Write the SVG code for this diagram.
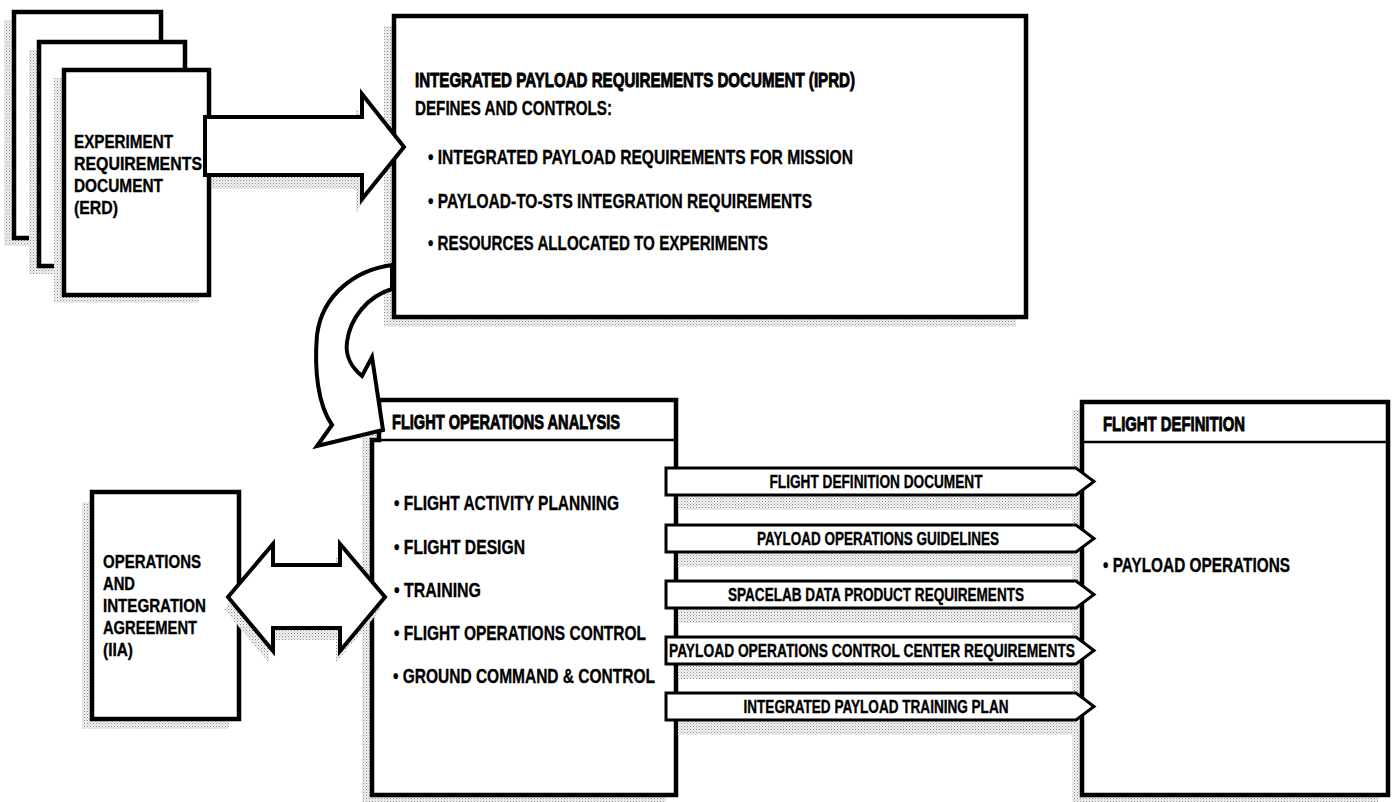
<svg xmlns="http://www.w3.org/2000/svg" width="1394" height="802" viewBox="0 0 1394 802">
<defs>
<pattern id="dots" width="3" height="3" patternUnits="userSpaceOnUse">
<rect width="3" height="3" fill="#f4f4f4"/>
<rect x="0" y="0" width="1" height="1" fill="#8a8a8a"/>
<rect x="1.5" y="1.5" width="1" height="1" fill="#a8a8a8"/>
</pattern>
<style>
.sh{fill:url(#dots);stroke:none}
.box{fill:#fff;stroke:#000;stroke-width:4.5}
.arr{fill:#fff;stroke:#000;stroke-width:4;stroke-linejoin:miter}
.ban{fill:#fff;stroke:#000;stroke-width:3}
.div{stroke:#000;stroke-width:2.5;fill:none}
.t{font-family:"Liberation Sans",Arial,sans-serif;font-weight:bold;font-size:21px;fill:#000;stroke:#000;stroke-width:0.35}
.s{font-size:19px}
.h{stroke-width:0.9}
.l{font-size:18px}
</style>
</defs>
<rect width="1394" height="802" fill="#fff"/>

<g id="erd">
<rect class="sh" x="4" y="20" width="147" height="226"/>
<rect class="box" x="14" y="12" width="147" height="226"/>
<rect class="sh" x="29" y="50" width="146" height="224"/>
<rect class="box" x="39" y="42" width="146" height="224"/>
<polygon class="sh" points="199,131 356,131 356,108 391,160 356,213 356,189 199,189"/>
<rect class="sh" x="54" y="78" width="145" height="225"/>
<rect class="box" x="64" y="70" width="145" height="225"/>
<text class="t s" x="74" y="148" textLength="99" lengthAdjust="spacingAndGlyphs">EXPERIMENT</text>
<text class="t s" x="74" y="170" textLength="128" lengthAdjust="spacingAndGlyphs">REQUIREMENTS</text>
<text class="t s" x="74" y="192" textLength="89" lengthAdjust="spacingAndGlyphs">DOCUMENT</text>
<text class="t s" x="74" y="214" textLength="44" lengthAdjust="spacingAndGlyphs">(ERD)</text>
</g>

<g id="iprd">
<rect class="sh" x="384" y="26" width="632" height="301"/>
<rect class="box" x="394" y="16" width="632" height="301"/>
<text class="t h" x="415" y="87" textLength="440" lengthAdjust="spacingAndGlyphs">INTEGRATED PAYLOAD REQUIREMENTS DOCUMENT (IPRD)</text>
<text class="t" x="415" y="115" textLength="197" lengthAdjust="spacingAndGlyphs">DEFINES AND CONTROLS:</text>
<text class="t" x="428" y="164" textLength="425" lengthAdjust="spacingAndGlyphs">• INTEGRATED PAYLOAD REQUIREMENTS FOR MISSION</text>
<text class="t" x="428" y="208" textLength="384" lengthAdjust="spacingAndGlyphs">• PAYLOAD-TO-STS INTEGRATION REQUIREMENTS</text>
<text class="t" x="428" y="250" textLength="340" lengthAdjust="spacingAndGlyphs">• RESOURCES ALLOCATED TO EXPERIMENTS</text>
</g>

<g id="oia">
<rect class="sh" x="82" y="502" width="147" height="227"/>
<rect class="box" x="92" y="492" width="147" height="227"/>
<text class="t s" x="103" y="568" textLength="98" lengthAdjust="spacingAndGlyphs">OPERATIONS</text>
<text class="t s" x="103" y="590" textLength="32" lengthAdjust="spacingAndGlyphs">AND</text>
<text class="t s" x="103" y="612" textLength="103" lengthAdjust="spacingAndGlyphs">INTEGRATION</text>
<text class="t s" x="103" y="634" textLength="94" lengthAdjust="spacingAndGlyphs">AGREEMENT</text>
<text class="t s" x="103" y="656" textLength="30" lengthAdjust="spacingAndGlyphs">(IIA)</text>
</g>

<g id="foa">
<rect class="sh" x="362" y="408" width="304" height="395"/>
<path class="box" d="M379,400 H676 V795 H372 V440 H379 Z"/>
<line class="div" x1="379" y1="440" x2="676" y2="440"/>
<text class="t h" x="392" y="429" textLength="228" lengthAdjust="spacingAndGlyphs">FLIGHT OPERATIONS ANALYSIS</text>
<text class="t" x="394" y="510" textLength="225" lengthAdjust="spacingAndGlyphs">• FLIGHT ACTIVITY PLANNING</text>
<text class="t" x="394" y="554" textLength="131" lengthAdjust="spacingAndGlyphs">• FLIGHT DESIGN</text>
<text class="t" x="394" y="597" textLength="87" lengthAdjust="spacingAndGlyphs">• TRAINING</text>
<text class="t" x="394" y="640" textLength="252" lengthAdjust="spacingAndGlyphs">• FLIGHT OPERATIONS CONTROL</text>
<text class="t" x="393" y="683" textLength="262" lengthAdjust="spacingAndGlyphs">• GROUND COMMAND &amp; CONTROL</text>
</g>

<g id="fd">
<rect class="sh" x="1072" y="410" width="306" height="393"/>
<rect class="box" x="1082" y="402" width="306" height="393"/>
<line class="div" x1="1082" y1="442" x2="1388" y2="442"/>
<text class="t h" x="1103" y="431" textLength="142" lengthAdjust="spacingAndGlyphs">FLIGHT DEFINITION</text>
<text class="t" x="1103" y="572" textLength="187" lengthAdjust="spacingAndGlyphs">• PAYLOAD OPERATIONS</text>
</g>

<g id="connectors">
<polygon class="arr" points="205,117 362,117 362,94 404,147 362,199 362,175 205,175"/>
<path class="arr" d="M392,265 C355,270 322,295 317,335 C314,370 318,405 332,425 L317,446 L383,430 L372,357 L362,376 C352,368 345,356 347,342 C350,318 368,296 392,289 Z"/>
<polygon class="sh" points="224,609 269,556 269,577 336,577 336,556 381,609 336,663 336,640 269,640 269,663"/>
<polygon class="arr" points="228,597 273,544 273,565 340,565 340,544 385,597 340,651 340,628 273,628 273,651"/>
<rect class="sh" x="678" y="495" width="400" height="15"/>
<rect class="sh" x="678" y="552" width="400" height="15"/>
<rect class="sh" x="678" y="608" width="400" height="15"/>
<rect class="sh" x="678" y="664" width="400" height="15"/>
<rect class="sh" x="678" y="720" width="400" height="15"/>
<polygon class="ban" points="666,468 1076,468 1094,481.5 1076,495 666,495"/>
<polygon class="ban" points="666,525 1076,525 1094,538.5 1076,552 666,552"/>
<polygon class="ban" points="666,581 1076,581 1094,594.5 1076,608 666,608"/>
<polygon class="ban" points="666,637 1076,637 1094,650.5 1076,664 666,664"/>
<polygon class="ban" points="666,693 1076,693 1094,706.5 1076,720 666,720"/>
<text class="t l" x="876" y="488" text-anchor="middle" textLength="213" lengthAdjust="spacingAndGlyphs">FLIGHT DEFINITION DOCUMENT</text>
<text class="t l" x="878" y="545" text-anchor="middle" textLength="242" lengthAdjust="spacingAndGlyphs">PAYLOAD OPERATIONS GUIDELINES</text>
<text class="t l" x="876" y="601" text-anchor="middle" textLength="296" lengthAdjust="spacingAndGlyphs">SPACELAB DATA PRODUCT REQUIREMENTS</text>
<text class="t l" x="872" y="657" text-anchor="middle" textLength="406" lengthAdjust="spacingAndGlyphs">PAYLOAD OPERATIONS CONTROL CENTER REQUIREMENTS</text>
<text class="t l" x="876" y="713" text-anchor="middle" textLength="265" lengthAdjust="spacingAndGlyphs">INTEGRATED PAYLOAD TRAINING PLAN</text>
</g>
</svg>
